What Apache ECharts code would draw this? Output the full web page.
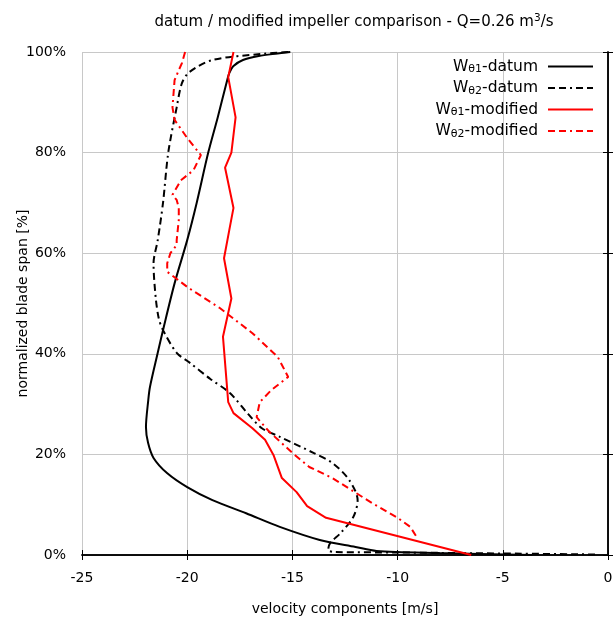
<!DOCTYPE html>
<html>
<head>
<meta charset="utf-8">
<script src="https://cdn.jsdelivr.net/npm/echarts@6/dist/echarts.min.js"></script>
<style>
  html, body { margin: 0; padding: 0; background: #fff; }
  #chart { width: 614px; height: 621px; }
</style>
</head>
<body>
<div id="chart"></div>
<script>
// span [%] and velocity [m/s]
const datum1Span = [100, 99.7, 99.2, 98.4, 97.2, 95.8, 94.4, 87, 80, 70, 62.6, 54, 44.7, 40.2, 33.4, 30.8, 25.4, 22.3, 19.3, 16.3, 13.5, 10.9, 8.3, 5.6, 3, 1.6, 0.8, 0.4, 0]
const datum1Vel = [-15.1, -15.7, -16.6, -17.35, -17.8, -18.0, -18.1, -18.55, -19.0, -19.55, -20.0, -20.6, -21.15, -21.4, -21.77, -21.85, -21.96, -21.86, -21.6, -20.96, -20.0, -18.8, -17.2, -15.6, -13.7, -12.0, -11.0, -8.0, -3.6]

const datum2Span = [100, 99.6, 98.4, 96, 93.8, 89, 80, 70, 62.6, 58, 51.3, 47, 44.7, 40.2, 38.2, 35, 32.2, 28, 25.2, 23.5, 20.3, 18.3, 14.9, 10.9, 7.6, 4.4, 2.4, 1, 0.6, 0.5, 0.3, 0.1]
const datum2Vel = [-15.2, -16.5, -18.8, -19.9, -20.25, -20.5, -20.9, -21.15, -21.4, -21.6, -21.5, -21.35, -21.15, -20.5, -19.87, -18.9, -17.97, -17.1, -16.45, -15.6, -14.0, -13.1, -12.3, -11.9, -12.1, -12.7, -13.2, -13.3, -13.0, -10.0, -5.0, -0.5]

const mod1Span = [100, 95, 87, 80, 77, 69, 64.6, 59, 51, 43.4, 30.4, 28.2, 25.2, 22.9, 19.9, 15.3, 12.5, 9.7, 7.4, 0]
const mod1Vel = [-17.8, -18.05, -17.7, -17.9, -18.2, -17.8, -18.0, -18.25, -17.9, -18.3, -18.05, -17.8, -16.9, -16.3, -15.9, -15.5, -14.8, -14.3, -13.4, -6.5]

const mod2Span = [100, 97.8, 96.4, 94.4, 89, 86.5, 82.9, 79.5, 76.5, 74.5, 71.6, 70.6, 69, 66.6, 62.6, 61.6, 60, 58, 56.3, 53, 49.1, 44.1, 39.4, 35.4, 32.8, 30.4, 27.4, 24.5, 20.3, 17.5, 15.3, 12.4, 10.3, 7.4, 5.6, 3.6]
const mod2Vel = [-20.1, -20.25, -20.4, -20.6, -20.7, -20.6, -20.0, -19.35, -19.7, -20.3, -20.7, -20.5, -20.4, -20.4, -20.5, -20.5, -20.8, -20.95, -20.95, -19.9, -18.45, -16.9, -15.7, -15.2, -16.0, -16.55, -16.7, -16.1, -15.0, -14.2, -13.1, -12.0, -11.2, -10.0, -9.4, -9.1]

const seriesNames = ['Wθ1-datum', 'Wθ2-datum', 'Wθ1-modified', 'Wθ2-modified']

const font = 'DejaVu Sans'
const dashDot = [7, 4, 7, 4, 2, 4]

function pairs (vel, span) {
  return vel.map((v, i) => [v, span[i]])
}

function line (name, vel, span, color, type, smooth) {
  return {
    name,
    type: 'line',
    data: pairs(vel, span),
    symbol: 'none',
    smooth: smooth || false,
    animation: false,
    lineStyle: { color, width: 2, type },
    itemStyle: { color }
  }
}

const chart = echarts.init(document.getElementById('chart'))

const hiddenAxis = {
  type: 'value',
  axisLine: { show: true, lineStyle: { color: '#000', width: 1.5 } },
  axisTick: { show: true, inside: true, length: 5, lineStyle: { color: '#000' } },
  axisLabel: { show: false },
  splitLine: { show: false }
}

chart.setOption({
  backgroundColor: '#fff',
  animation: false,
  title: {
    text: '{n|datum / modified impeller comparison - Q=0.26 m}{sup|3}{n|/s}',
    left: 349,
    top: 8,
    textAlign: 'center',
    textStyle: {
      fontWeight: 'normal',
      rich: {
        n: { fontFamily: font, fontSize: 15, fontWeight: 'normal', color: '#000' },
        sup: { fontFamily: font, fontSize: 10.5, fontWeight: 'normal', color: '#000', padding: [0, 0, 8, 0] }
      }
    }
  },
  legend: {
    orient: 'vertical',
    right: 15,
    top: 53,
    align: 'right',
    itemWidth: 45,
    itemHeight: 14,
    itemGap: 4.5,
    data: seriesNames,
    itemStyle: { opacity: 0 },
    formatter: name => {
      const parts = name.match(/^W(θ\d)(.*)$/)
      return '{n|W}{s|' + parts[1] + '}{n|' + parts[2] + '}'
    },
    textStyle: {
      padding: [0, 5, 0, 0],
      rich: {
        n: { fontFamily: font, fontSize: 15.5, color: '#000', lineHeight: 14 },
        s: { fontFamily: font, fontSize: 11, color: '#000', lineHeight: 14, padding: [6, 0, 0, 0] }
      }
    }
  },
  grid: { left: 82, right: 6, top: 52, bottom: 66, containLabel: false, outerBoundsMode: 'none' },
  xAxis: [{
    type: 'value',
    min: -25,
    max: 0,
    interval: 5,
    name: 'velocity components [m/s]',
    nameLocation: 'middle',
    nameGap: 47,
    nameMoveOverlap: false,
    nameTextStyle: { fontFamily: font, fontSize: 14, color: '#000' },
    axisLine: { show: true, lineStyle: { color: '#000', width: 1.5 } },
    axisTick: { show: true, inside: true, length: 5, lineStyle: { color: '#000' } },
    axisLabel: { fontFamily: font, fontSize: 14, color: '#000', margin: 16 },
    splitLine: { show: true, lineStyle: { color: '#c8c8c8', width: 1 } }
  }, Object.assign({}, hiddenAxis, { position: 'top', min: -25, max: 0, interval: 5 })],
  yAxis: [{
    type: 'value',
    min: 0,
    max: 100,
    interval: 20,
    name: 'normalized blade span [%]',
    nameLocation: 'middle',
    nameGap: 52,
    nameMoveOverlap: false,
    nameTextStyle: { fontFamily: font, fontSize: 14, color: '#000' },
    axisLine: { show: true, lineStyle: { color: '#000', width: 1.5 } },
    axisTick: { show: true, inside: true, length: 5, lineStyle: { color: '#000' } },
    axisLabel: { fontFamily: font, fontSize: 14, color: '#000', margin: 16, formatter: '{value}%' },
    splitLine: { show: true, lineStyle: { color: '#c8c8c8', width: 1 } }
  }, Object.assign({}, hiddenAxis, { position: 'right', min: 0, max: 100, interval: 20 })],
  series: [
    line(seriesNames[0], datum1Vel, datum1Span, '#000', 'solid', 0.3),
    line(seriesNames[1], datum2Vel, datum2Span, '#000', dashDot, 0.3),
    line(seriesNames[2], mod1Vel, mod1Span, '#ff0000', 'solid'),
    line(seriesNames[3], mod2Vel, mod2Span, '#ff0000', dashDot)
  ]
})
</script>
</body>
</html>
